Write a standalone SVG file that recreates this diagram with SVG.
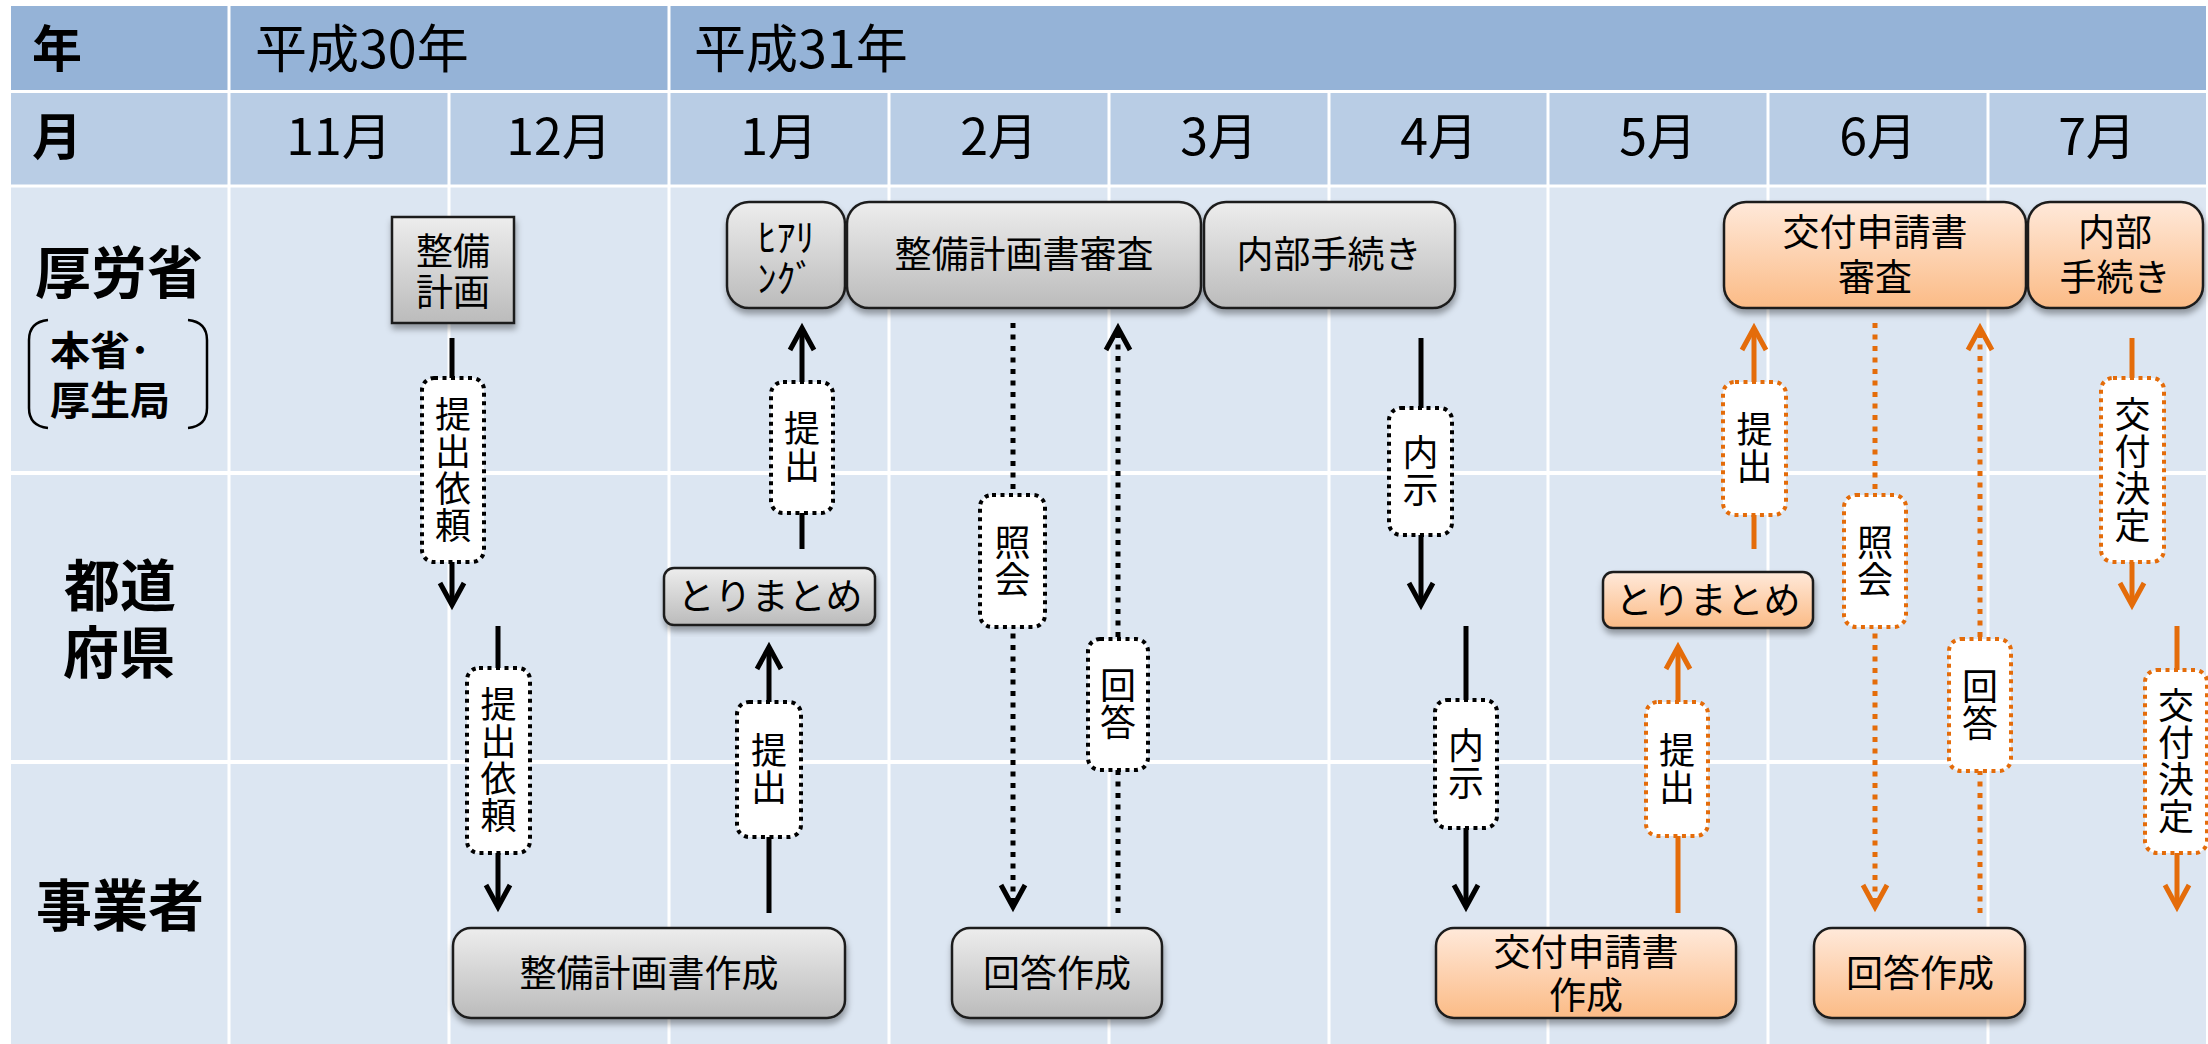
<svg xmlns="http://www.w3.org/2000/svg" width="2208" height="1044" viewBox="0 0 2208 1044">
<style>
  text { font-family: "Noto Sans CJK JP", "Noto Sans", sans-serif; fill: #000; }
  .hdr { font-size: 52px; }
  .mon { font-size: 50px; text-anchor: middle; }
  .hb { font-size: 50px; font-weight: bold; }
  .lane { font-size: 56px; font-weight: bold; text-anchor: middle; }
  .sub { font-size: 40px; font-weight: bold; }
  .nt { font-size: 37px; text-anchor: middle; }
  .lt { font-size: 36px; text-anchor: middle; writing-mode: vertical-rl; letter-spacing: 1px; }
  .gray { fill: url(#gGray); stroke: #1f1f1f; stroke-width: 2.5; filter: url(#shadow); }
  .orng { fill: url(#gOrange); stroke: #1f1f1f; stroke-width: 2.5; filter: url(#shadow); }
  .lblK { fill: #fff; stroke: #000; stroke-width: 4; stroke-dasharray: 4 4.5; }
  .lblO { fill: #fff; stroke: #E46C0A; stroke-width: 4; stroke-dasharray: 4 4.5; }
  .solK { stroke: #000; stroke-width: 5; fill: none; }
  .dotK { stroke: #000; stroke-width: 5; fill: none; stroke-dasharray: 5 6.5; }
  .solO { stroke: #E46C0A; stroke-width: 5; fill: none; }
  .dotO { stroke: #E46C0A; stroke-width: 5; fill: none; stroke-dasharray: 5 6.5; }
  .grid { stroke: #fff; fill: none; }
</style>
<defs>
  <linearGradient id="gGray" x1="0" y1="0" x2="0" y2="1">
    <stop offset="0" stop-color="#EDEDED"/>
    <stop offset="1" stop-color="#BBBBBB"/>
  </linearGradient>
  <linearGradient id="gOrange" x1="0" y1="0" x2="0" y2="1">
    <stop offset="0" stop-color="#FFE9DA"/>
    <stop offset="1" stop-color="#FBBB86"/>
  </linearGradient>
  <filter id="shadow" x="-10%" y="-10%" width="120%" height="130%">
    <feDropShadow dx="1" dy="5" stdDeviation="3" flood-color="#000" flood-opacity="0.35"/>
  </filter>
  <marker id="arrK" markerUnits="userSpaceOnUse" viewBox="-32 -18 40 36" refX="0" refY="0" markerWidth="40" markerHeight="36" orient="auto">
    <path d="M-22,-12 L0,0 L-22,12" fill="none" stroke="#000" stroke-width="5"/>
  </marker>
  <marker id="arrO" markerUnits="userSpaceOnUse" viewBox="-32 -18 40 36" refX="0" refY="0" markerWidth="40" markerHeight="36" orient="auto">
    <path d="M-22,-12 L0,0 L-22,12" fill="none" stroke="#E46C0A" stroke-width="5"/>
  </marker>
</defs>

<rect width="2208" height="1044" fill="#fff"/>

<g id="table">
  <rect x="11" y="6" width="2195" height="86" fill="#95B3D7"/>
  <rect x="11" y="92" width="2195" height="94" fill="#B9CDE5"/>
  <rect x="11" y="186" width="2195" height="858" fill="#DCE6F2"/>
  <g class="grid" stroke-width="3">
    <line x1="11" y1="91.5" x2="2206" y2="91.5"/>
    <line x1="11" y1="186" x2="2206" y2="186"/>
    <line x1="11" y1="473" x2="2206" y2="473" stroke-width="4"/>
    <line x1="11" y1="762" x2="2206" y2="762" stroke-width="4"/>
    <line x1="229" y1="6" x2="229" y2="1044"/>
    <line x1="669" y1="6" x2="669" y2="1044"/>
    <line x1="449" y1="91" x2="449" y2="1044"/>
    <line x1="889" y1="91" x2="889" y2="1044"/>
    <line x1="1109" y1="91" x2="1109" y2="1044"/>
    <line x1="1329" y1="91" x2="1329" y2="1044"/>
    <line x1="1548" y1="91" x2="1548" y2="1044"/>
    <line x1="1768" y1="91" x2="1768" y2="1044"/>
    <line x1="1988" y1="91" x2="1988" y2="1044"/>
  </g>
  <text class="hb" x="32" y="67">年</text>
  <text class="hdr" x="255" y="68">平成30年</text>
  <text class="hdr" x="694" y="68">平成31年</text>
  <text class="hb" x="32" y="155">月</text>
  <text class="mon" x="339" y="155">11月</text>
  <text class="mon" x="559" y="155">12月</text>
  <text class="mon" x="779" y="155">1月</text>
  <text class="mon" x="999" y="155">2月</text>
  <text class="mon" x="1219" y="155">3月</text>
  <text class="mon" x="1439" y="155">4月</text>
  <text class="mon" x="1658" y="155">5月</text>
  <text class="mon" x="1878" y="155">6月</text>
  <text class="mon" x="2097" y="155">7月</text>
</g>

<g id="lanes">
  <text class="lane" x="119" y="293">厚労省</text>
  <path d="M48,320 Q29,322 29,340 L29,408 Q29,426 48,428" fill="none" stroke="#000" stroke-width="2.5"/>
  <path d="M188,320 Q207,322 207,340 L207,408 Q207,426 188,428" fill="none" stroke="#000" stroke-width="2.5"/>
  <text class="sub" x="50" y="365">本省･</text>
  <text class="sub" x="50" y="415">厚生局</text>
  <text class="lane" x="120" y="606">都道</text>
  <text class="lane" x="119" y="673">府県</text>
  <text class="lane" x="120" y="926">事業者</text>
</g>

<g id="connectors">
  <line class="solK" x1="452" y1="338" x2="452" y2="605" marker-end="url(#arrK)"/>
  <line class="solK" x1="498" y1="626" x2="498" y2="907" marker-end="url(#arrK)"/>
  <line class="solK" x1="802" y1="549" x2="802" y2="328" marker-end="url(#arrK)"/>
  <line class="solK" x1="769" y1="913" x2="769" y2="647" marker-end="url(#arrK)"/>
  <line class="dotK" x1="1013" y1="323" x2="1013" y2="907" marker-end="url(#arrK)"/>
  <line class="dotK" x1="1118" y1="913" x2="1118" y2="328" marker-end="url(#arrK)"/>
  <line class="solK" x1="1421" y1="338" x2="1421" y2="605" marker-end="url(#arrK)"/>
  <line class="solK" x1="1466" y1="626" x2="1466" y2="907" marker-end="url(#arrK)"/>
  <line class="solO" x1="1678" y1="913" x2="1678" y2="647" marker-end="url(#arrO)"/>
  <line class="solO" x1="1754" y1="549" x2="1754" y2="328" marker-end="url(#arrO)"/>
  <line class="dotO" x1="1875" y1="323" x2="1875" y2="907" marker-end="url(#arrO)"/>
  <line class="dotO" x1="1980" y1="913" x2="1980" y2="328" marker-end="url(#arrO)"/>
  <line class="solO" x1="2132" y1="338" x2="2132" y2="605" marker-end="url(#arrO)"/>
  <line class="solO" x1="2177" y1="626" x2="2177" y2="907" marker-end="url(#arrO)"/>

  <g id="lbl1"><rect class="lblK" x="422" y="378" width="62" height="184" rx="12"/>
    <text class="lt" x="453" y="470">提出依頼</text></g>
  <g id="lbl2"><rect class="lblK" x="467" y="668" width="63" height="185" rx="12"/>
    <text class="lt" x="498.5" y="760.5">提出依頼</text></g>
  <g id="lbl3"><rect class="lblK" x="771" y="382" width="62" height="131" rx="12"/>
    <text class="lt" x="802" y="447.5">提出</text></g>
  <g id="lbl4"><rect class="lblK" x="737" y="702" width="64" height="135" rx="12"/>
    <text class="lt" x="769" y="769.5">提出</text></g>
  <g id="lbl5"><rect class="lblK" x="980" y="495" width="65" height="132" rx="12"/>
    <text class="lt" x="1012.5" y="561">照会</text></g>
  <g id="lbl6"><rect class="lblK" x="1088" y="639" width="60" height="131" rx="12"/>
    <text class="lt" x="1118" y="704.5">回答</text></g>
  <g id="lbl7"><rect class="lblK" x="1389" y="408" width="63" height="127" rx="12"/>
    <text class="lt" x="1420.5" y="471.5">内示</text></g>
  <g id="lbl8"><rect class="lblK" x="1435" y="700" width="62" height="128" rx="12"/>
    <text class="lt" x="1466" y="764">内示</text></g>
  <g id="lbl9"><rect class="lblO" x="1646" y="702" width="62" height="134" rx="12"/>
    <text class="lt" x="1677" y="769">提出</text></g>
  <g id="lbl10"><rect class="lblO" x="1723" y="382" width="63" height="133" rx="12"/>
    <text class="lt" x="1754.5" y="448.5">提出</text></g>
  <g id="lbl11"><rect class="lblO" x="1844" y="495" width="62" height="132" rx="12"/>
    <text class="lt" x="1875" y="561">照会</text></g>
  <g id="lbl12"><rect class="lblO" x="1949" y="639" width="62" height="132" rx="12"/>
    <text class="lt" x="1980" y="705">回答</text></g>
  <g id="lbl13"><rect class="lblO" x="2101" y="378" width="63" height="184" rx="12"/>
    <text class="lt" x="2132.5" y="470">交付決定</text></g>
  <g id="lbl14"><rect class="lblO" x="2145" y="670" width="62" height="183" rx="12"/>
    <text class="lt" x="2176" y="761.5">交付決定</text></g>
</g>

<g id="n_seibikeikaku"><rect class="gray" x="392" y="217" width="122" height="106"/>
  <text class="nt"><tspan x="453" y="265">整備</tspan><tspan x="453" y="306">計画</tspan></text></g>
<g id="n_hearing"><rect class="gray" x="727" y="202" width="118" height="106" rx="22"/>
  <text class="nt" style="font-size:38px"><tspan x="786" y="251">ﾋｱﾘ</tspan><tspan x="786" y="292">ﾝｸﾞ</tspan></text></g>
<g id="n_shinsa"><rect class="gray" x="847" y="202" width="354" height="106" rx="22"/>
  <text class="nt" x="1024" y="268">整備計画書審査</text></g>
<g id="n_naibu1"><rect class="gray" x="1204" y="202" width="251" height="106" rx="22"/>
  <text class="nt" x="1329" y="268">内部手続き</text></g>
<g id="n_torimatome1"><rect class="gray" x="664" y="568" width="211" height="57" rx="10"/>
  <text class="nt" x="770" y="610">とりまとめ</text></g>
<g id="n_sakusei1"><rect class="gray" x="453" y="928" width="392" height="90" rx="18"/>
  <text class="nt" x="649" y="987">整備計画書作成</text></g>
<g id="n_kaitou1"><rect class="gray" x="952" y="928" width="210" height="90" rx="18"/>
  <text class="nt" x="1057" y="987">回答作成</text></g>
<g id="n_koufu_sakusei"><rect class="orng" x="1436" y="928" width="300" height="90" rx="18"/>
  <text class="nt"><tspan x="1586" y="966">交付申請書</tspan><tspan x="1586" y="1009">作成</tspan></text></g>
<g id="n_kaitou2"><rect class="orng" x="1814" y="928" width="211" height="90" rx="18"/>
  <text class="nt" x="1920" y="987">回答作成</text></g>
<g id="n_torimatome2"><rect class="orng" x="1603" y="572" width="210" height="56" rx="10"/>
  <text class="nt" x="1708" y="614">とりまとめ</text></g>
<g id="n_koufu_shinsa"><rect class="orng" x="1724" y="202" width="302" height="106" rx="22"/>
  <text class="nt"><tspan x="1875" y="246">交付申請書</tspan><tspan x="1875" y="291">審査</tspan></text></g>
<g id="n_naibu2"><rect class="orng" x="2028" y="202" width="175" height="106" rx="22"/>
  <text class="nt"><tspan x="2115" y="246">内部</tspan><tspan x="2115" y="291">手続き</tspan></text></g>
</svg>
